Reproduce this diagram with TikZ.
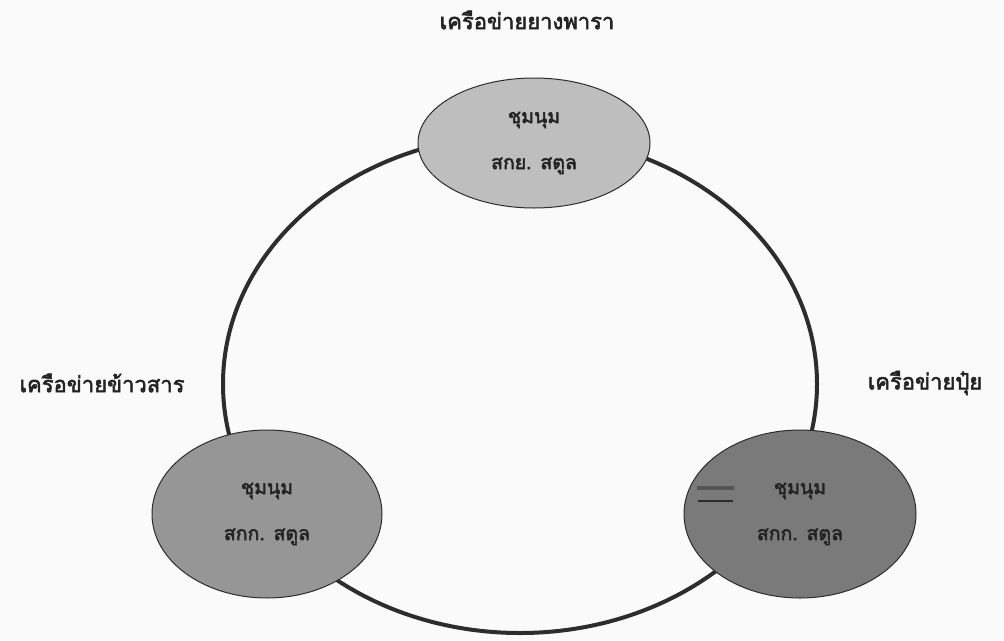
\documentclass[tikz,border=0pt]{standalone}
\usepackage{fontspec}
\newfontfamily\thaifont[Script=Thai, FakeBold=2.5]{Loma}
\usetikzlibrary{shapes.geometric}
\definecolor{paper}{RGB}{250,250,250}
\definecolor{ringc}{RGB}{45,45,45}
\definecolor{fillA}{RGB}{190,190,190}
\definecolor{fillB}{RGB}{150,150,150}
\definecolor{fillC}{RGB}{122,122,122}
\definecolor{txt}{RGB}{35,35,35}
\definecolor{blur}{RGB}{85,85,85}
\begin{document}
\begin{tikzpicture}[x=1pt,y=-1pt,
  lbl/.style={font=\thaifont\fontsize{22}{26}\selectfont, text=txt, inner sep=0pt},
  blob/.style={ellipse, draw=ringc, line width=1pt, inner sep=0pt, align=center,
    font=\thaifont\fontsize{19.5}{46}\selectfont, text=txt},
  ringstyle/.style={ellipse, draw=ringc, line width=4pt, inner sep=0pt}]
\useasboundingbox[fill=paper] (0,0) rectangle (1004,640);
\node[ringstyle, minimum width=594pt, minimum height=498pt] (ring) at (520,384) {};
\node[blob, fill=fillA, minimum width=232pt, minimum height=130pt] (rubber) at (534,143) {ชุมนุม\\สกย. สตูล};
\node[blob, fill=fillB, minimum width=230pt, minimum height=168pt] (rice) at (267,514) {ชุมนุม\\สกก. สตูล};
\node[blob, fill=fillC, minimum width=232pt, minimum height=168pt] (fert) at (800,514) {ชุมนุม\\สกก. สตูล};
\draw[line width=4pt, blur] (697,488) -- (734,488);
\draw[line width=1.3pt, ringc] (698,501) -- (733,501);
\node[lbl] (lrubber) at (527,20) {เครือข่ายยางพารา};
\node[lbl] (lrice) at (102,383) {เครือข่ายข้าวสาร};
\node[lbl] (lfert) at (925,383) {เครือข่ายปุ๋ย};
\end{tikzpicture}
\end{document}
